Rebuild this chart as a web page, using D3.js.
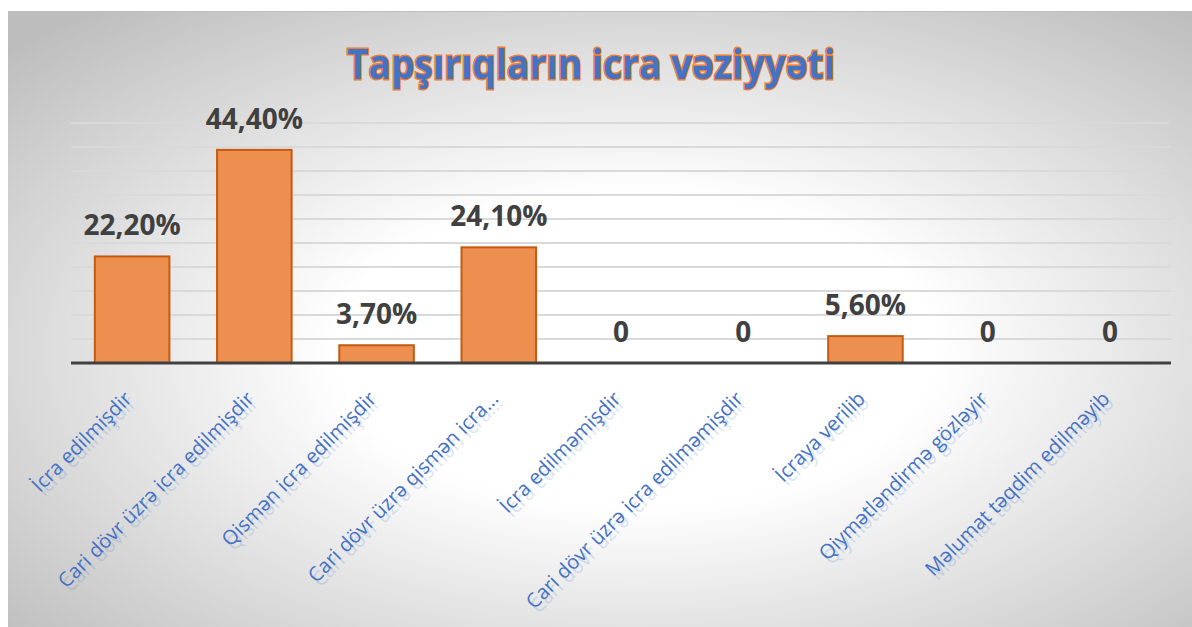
<!DOCTYPE html>
<html>
<head>
  <meta charset="utf-8">
  <title>Tapşırıqların icra vəziyyəti</title>
  <style>
    body { margin: 0; background: #fff; }
    .grid line { stroke: #d9d9d9; stroke-width: 2px; }
    .bar { fill: #ed8f4e; stroke: #c55a11; stroke-width: 2px; }
    .val { fill: #404040; font-family: "Open Sans", sans-serif; font-weight: bold; font-size: 28px; }
    .cat { fill: #4472c4; font-family: "Open Sans", sans-serif; font-size: 20px; }
    .title { fill: #4472c4; stroke: #ed7d31; stroke-width: 2.8px; paint-order: stroke;
             font-family: "Open Sans", sans-serif; font-weight: bold; font-size: 42px; }
  </style>
</head>
<body>
  <svg id="chart"></svg>

  <script src="https://d3js.org/d3.v7.min.js"></script>
  <script>
    // data
    const categories = [
      "İcra edilmişdir",
      "Cari dövr üzrə icra edilmişdir",
      "Qismən icra edilmişdir",
      "Cari dövr üzrə qismən icra...",
      "İcra edilməmişdir",
      "Cari dövr üzrə icra edilməmişdir",
      "İcraya verilib",
      "Qiymətləndirmə gözləyir",
      "Məlumat təqdim edilməyib"
    ];
    const values = [22.2, 44.4, 3.7, 24.1, 0, 0, 5.6, 0, 0];
    const valueLabels = ["22,20%", "44,40%", "3,70%", "24,10%", "0", "0", "5,60%", "0", "0"];
    const gridTicks = [5, 10, 15, 20, 25, 30, 35, 40, 45, 50];

    const W = 1192, H = 627;
    const svg = d3.select("#chart").attr("width", W).attr("height", H);

    // background gradient
    const defs = svg.append("defs");
    const grad = defs.append("radialGradient")
      .attr("id", "bg")
      .attr("cx", "0.53").attr("cy", "0.55").attr("r", "0.72");
    grad.append("stop").attr("offset", "0").attr("stop-color", "#ffffff");
    grad.append("stop").attr("offset", "0.35").attr("stop-color", "#ffffff");
    grad.append("stop").attr("offset", "1").attr("stop-color", "#bdbdbd");

    svg.append("rect")
      .attr("x", 8).attr("y", 11)
      .attr("width", W - 8).attr("height", H - 11)
      .attr("fill", "url(#bg)");
    svg.append("line")
      .attr("x1", 8).attr("x2", W).attr("y1", 11.5).attr("y2", 11.5)
      .attr("stroke", "#bdbdbd");

    const x = d3.scaleBand()
      .domain(categories)
      .range([71, 1171])
      .paddingInner(0.39)
      .paddingOuter(0.195);

    const y = d3.scaleLinear().domain([0, 50]).range([363, 123]);

    // gridlines
    svg.append("g").attr("class", "grid")
      .selectAll("line")
      .data(gridTicks)
      .join("line")
      .attr("x1", 71).attr("x2", 1171)
      .attr("y1", d => y(d)).attr("y2", d => y(d));

    // bars
    svg.append("g")
      .selectAll("rect")
      .data(values)
      .join("rect")
      .attr("class", "bar")
      .attr("x", (d, i) => x(categories[i]))
      .attr("width", x.bandwidth())
      .attr("y", d => y(d))
      .attr("height", d => y(0) - y(d))
      .style("display", d => d > 0 ? null : "none");

    // axis line
    svg.append("line")
      .attr("x1", 71).attr("x2", 1171)
      .attr("y1", y(0)).attr("y2", y(0))
      .attr("stroke", "#404040").attr("stroke-width", 3);

    // value labels
    svg.append("g")
      .selectAll("text")
      .data(values)
      .join("text")
      .attr("class", "val")
      .attr("text-anchor", "middle")
      .attr("x", (d, i) => x(categories[i]) + x.bandwidth() / 2)
      .attr("y", d => y(d) - 21)
      .text((d, i) => valueLabels[i]);

    // category labels, with a faint reflection
    const catPos = d => `translate(${x(d) + x.bandwidth() / 2 + 1},${400}) rotate(-45)`;
    svg.append("g")
      .selectAll("text")
      .data(categories)
      .join("text")
      .attr("class", "cat")
      .attr("text-anchor", "end")
      .attr("opacity", 0.18)
      .attr("transform", d => catPos(d) + " translate(0,6)")
      .text(d => d);
    svg.append("g")
      .selectAll("text")
      .data(categories)
      .join("text")
      .attr("class", "cat")
      .attr("text-anchor", "end")
      .attr("transform", catPos)
      .text(d => d);

    // title
    svg.append("text")
      .attr("class", "title")
      .attr("x", 591).attr("y", 79)
      .attr("text-anchor", "middle")
      .attr("textLength", 488)
      .attr("lengthAdjust", "spacingAndGlyphs")
      .text("Tapşırıqların icra vəziyyəti");
  </script>
</body>
</html>
